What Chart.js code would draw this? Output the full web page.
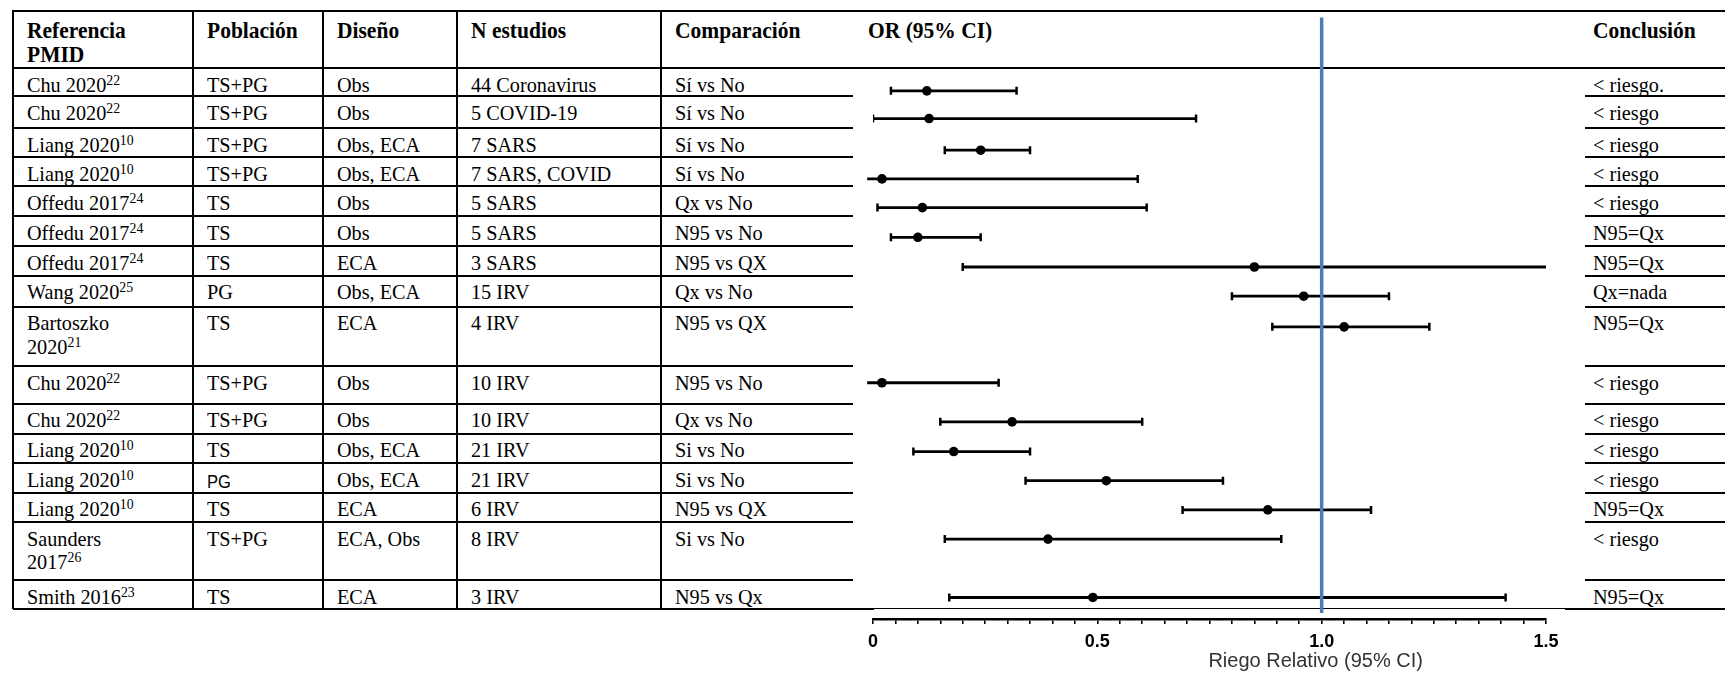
<!DOCTYPE html>
<html lang="es">
<head>
<meta charset="utf-8">
<title>Mascarillas: OR (95% CI)</title>
<script src="https://cdn.jsdelivr.net/npm/chart.js@4.4.1/dist/chart.umd.min.js"></script>
<style>
    html, body { margin: 0; padding: 0; background: #fff; }
    #page {
        position: relative;
        width: 1725px;
        height: 673px;
        overflow: hidden;
        font-family: "Liberation Serif", "Times New Roman", serif;
        color: #000;
    }
    .rule { position: absolute; background: #000; }
    .txt {
        position: absolute;
        font-size: 22px;
        line-height: 23.5px;
        white-space: pre;
        transform: scaleX(0.92);
        transform-origin: 0 0;
    }
    .txt.bold { font-weight: bold; font-size: 23px; transform: scaleX(0.935); }
    .txt sup { font-size: 15px; line-height: 0; vertical-align: 7px; }
    .txt.sans { font-family: "Liberation Sans", Arial, sans-serif; font-size: 18px; }
    #plot { position: absolute; left: 0; top: 0; z-index: 2; }
</style>
</head>
<body>
<div id="page">
    <canvas id="plot" width="1725" height="673"></canvas>
</div>
<script>
// ---- datos ----
const encabezados = ['Referencia\nPMID', 'Población', 'Diseño', 'N estudios', 'Comparación', 'OR (95% CI)', 'Conclusión'];
const referencias = ['Chu 2020', 'Chu 2020', 'Liang 2020', 'Liang 2020', 'Offedu 2017', 'Offedu 2017', 'Offedu 2017',
    'Wang 2020', 'Bartoszko\n2020', 'Chu 2020', 'Chu 2020', 'Liang 2020', 'Liang 2020', 'Liang 2020', 'Saunders\n2017', 'Smith 2016'];
const citas = ['22', '22', '10', '10', '24', '24', '24', '25', '21', '22', '22', '10', '10', '10', '26', '23'];
const poblacion = ['TS+PG', 'TS+PG', 'TS+PG', 'TS+PG', 'TS', 'TS', 'TS', 'PG', 'TS', 'TS+PG', 'TS+PG', 'TS', 'PG', 'TS', 'TS+PG', 'TS'];
const diseno = ['Obs', 'Obs', 'Obs, ECA', 'Obs, ECA', 'Obs', 'Obs', 'ECA', 'Obs, ECA', 'ECA', 'Obs', 'Obs', 'Obs, ECA',
    'Obs, ECA', 'ECA', 'ECA, Obs', 'ECA'];
const nEstudios = ['44 Coronavirus', '5 COVID-19', '7 SARS', '7 SARS, COVID', '5 SARS', '5 SARS', '3 SARS', '15 IRV', '4 IRV',
    '10 IRV', '10 IRV', '21 IRV', '21 IRV', '6 IRV', '8 IRV', '3 IRV'];
const comparacion = ['Sí vs No', 'Sí vs No', 'Sí vs No', 'Sí vs No', 'Qx vs No', 'N95 vs No', 'N95 vs QX', 'Qx vs No', 'N95 vs QX',
    'N95 vs No', 'Qx vs No', 'Si vs No', 'Si vs No', 'N95 vs QX', 'Si vs No', 'N95 vs Qx'];
const conclusion = ['< riesgo.', '< riesgo', '< riesgo', '< riesgo', '< riesgo', 'N95=Qx', 'N95=Qx', 'Qx=nada', 'N95=Qx',
    '< riesgo', '< riesgo', '< riesgo', '< riesgo', 'N95=Qx', '< riesgo', 'N95=Qx'];

const orPunto = [0.12, 0.125, 0.24, 0.02, 0.11, 0.10, 0.85, 0.96, 1.05, 0.02, 0.31, 0.18, 0.52, 0.88, 0.39, 0.49];
const icInferior = [0.04, 0.00, 0.16, -0.013, 0.01, 0.04, 0.20, 0.80, 0.89, -0.013, 0.15, 0.09, 0.34, 0.69, 0.16, 0.17];
const icSuperior = [0.32, 0.72, 0.35, 0.59, 0.61, 0.24, 1.50, 1.15, 1.24, 0.28, 0.60, 0.35, 0.78, 1.11, 0.91, 1.41];

const xTickValores = [0, 0.5, 1.0, 1.5];
const xTickEtiquetas = ['0', '0.5', '1.0', '1.5'];
const xTitulo = 'Riego Relativo (95% CI)';
const valorNulo = 1.0;

// ---- maquetación ----
const X_MIN = 0, X_MAX = 1.5, X_PASO = 0.05;
const ROW_LINES = [11, 68, 96, 128, 157, 186, 216, 246, 275.5, 306.5, 366, 403.5, 433.5, 463, 492.5, 522, 580, 609];
const CI_SHIFT = [1, 1, 1, 1, 1, 1, 1, 1, 1, -2, 0, 0, 0, 0, 0, 1];
const COL_X = [13, 193, 323, 457, 661, 853, 1585, 1725];
const PAD_X = 14, PAD_TOP = 4.5, HEAD_PAD_TOP = 8, LINE_H = 23.5;
const AXIS_Y = 619, PLOT_LEFT = 873, PLOT_RIGHT = 1546;
const SANS_CELLS = [[12, 1]];

const page = document.getElementById('page');

function rule(x, y, w, h) {
    const el = document.createElement('div');
    el.className = 'rule';
    Object.assign(el.style, { left: x + 'px', top: y + 'px', width: w + 'px', height: h + 'px' });
    page.appendChild(el);
}

function text(str, x, y, { bold = false, sup = '', sans = false } = {}) {
    const el = document.createElement('div');
    el.className = 'txt' + (bold ? ' bold' : '') + (sans ? ' sans' : '');
    el.style.left = x + 'px';
    el.style.top = y + 'px';
    el.textContent = str;
    if (sup) {
        const s = document.createElement('sup');
        s.textContent = sup;
        el.appendChild(s);
    }
    page.appendChild(el);
}

function buildTable() {
    const top = ROW_LINES[0];
    const bottom = ROW_LINES[ROW_LINES.length - 1];
    const right = COL_X[COL_X.length - 1];

    rule(COL_X[0], top - 1, right - COL_X[0], 2);
    rule(COL_X[0], ROW_LINES[1] - 1, right - COL_X[0], 2);
    ROW_LINES.slice(2, -1).forEach((y) => {
        rule(COL_X[0], y - 1, COL_X[5] - COL_X[0], 2);
        rule(COL_X[6], y - 1, right - COL_X[6], 2);
    });
    rule(COL_X[0], bottom - 1, 874 - COL_X[0], 2);
    rule(874, bottom - 1, 1565 - 874, 1);
    rule(1565, bottom - 1, right - 1565, 2);
    COL_X.slice(0, 5).forEach((x) => rule(x - 1, top - 1, 2, bottom - top + 1));

    encabezados.forEach((h, c) => {
        const x = c === 6 ? COL_X[6] + 8 : COL_X[c] + (c === 5 ? 15 : PAD_X);
        text(h, x, top + HEAD_PAD_TOP, { bold: true });
    });

    const cols = [referencias, poblacion, diseno, nEstudios, comparacion];
    referencias.forEach((_, i) => {
        const y = ROW_LINES[i + 1] + PAD_TOP;
        cols.forEach((col, c) => {
            const sans = SANS_CELLS.some(([r, k]) => r === i && k === c);
            text(col[i], COL_X[c] + PAD_X, sans ? y + 3 : y, { sup: c === 0 ? citas[i] : '', sans });
        });
        text(conclusion[i], COL_X[6] + 8, y);
    });
}

buildTable();

// centro de la primera línea de texto de cada fila
const filaY = orPunto.map((_, i) => ROW_LINES[i + 1] + PAD_TOP + LINE_H / 2 + CI_SHIFT[i]);

const datasets = [];

datasets.push({
    label: 'OR = 1',
    data: [
        { x: valorNulo, y: ROW_LINES[0] },
        { x: valorNulo, y: ROW_LINES[ROW_LINES.length - 1] + 4 },
    ],
    showLine: true,
    borderColor: '#4a7ebb',
    borderWidth: 3.5,
    pointRadius: 0,
    clip: false,
    order: 0,
});

datasets.push({
    label: 'OR',
    data: orPunto.map((v, i) => ({ x: v, y: filaY[i] })),
    pointStyle: 'circle',
    pointRadius: 4.8,
    backgroundColor: '#000',
    borderWidth: 0,
    order: 1,
});

const extremos = [];
icInferior.forEach((v, i) => {
    if (v >= X_MIN) extremos.push({ x: v, y: filaY[i] });
});
icSuperior.forEach((v, i) => {
    if (v < X_MAX) extremos.push({ x: v, y: filaY[i] });
});
datasets.push({
    label: 'extremos IC',
    data: extremos,
    pointStyle: 'line',
    rotation: 90,
    pointRadius: 4,
    borderColor: '#000',
    borderWidth: 2.5,
    order: 2,
});

icInferior.forEach((lo, i) => {
    datasets.push({
        label: 'IC ' + (i + 1),
        data: [
            { x: lo, y: filaY[i] },
            { x: icSuperior[i], y: filaY[i] },
        ],
        showLine: true,
        borderColor: '#000',
        borderWidth: 2.8,
        pointRadius: 0,
        clip: false,
        order: 3,
    });
});

const axisTitle = {
    id: 'axisTitle',
    afterDraw(chart) {
        const { ctx } = chart;
        const x = chart.scales.x.getPixelForValue(valorNulo) - 6;
        ctx.save();
        ctx.font = '20px "Liberation Sans", Arial, sans-serif';
        ctx.fillStyle = '#333';
        ctx.textAlign = 'center';
        ctx.textBaseline = 'alphabetic';
        ctx.fillText(xTitulo, x, 667);
        ctx.restore();
    },
};

new Chart(document.getElementById('plot'), {
    type: 'scatter',
    data: { datasets },
    plugins: [axisTitle],
    options: {
        responsive: false,
        animation: false,
        devicePixelRatio: 1,
        events: [],
        layout: { padding: { left: PLOT_LEFT, right: 1725 - PLOT_RIGHT, top: 0, bottom: 0 } },
        plugins: { legend: { display: false }, tooltip: { enabled: false } },
        scales: {
            x: {
                type: 'linear',
                min: X_MIN,
                max: X_MAX,
                afterFit: (scale) => {
                    scale.height = 673 - AXIS_Y;
                },
                ticks: {
                    stepSize: X_PASO,
                    autoSkip: false,
                    maxRotation: 0,
                    padding: 7,
                    color: '#000',
                    font: { family: '"Liberation Sans", Arial, sans-serif', size: 18, weight: 'bold' },
                    callback: (v) => {
                        const k = xTickValores.findIndex((t) => Math.abs(t - v) < 1e-6);
                        return k >= 0 ? xTickEtiquetas[k] : '';
                    },
                },
                grid: { drawOnChartArea: false, tickLength: 5, color: '#000', lineWidth: 1.6 },
                border: { color: '#000', width: 2.6 },
            },
            y: { type: 'linear', reverse: true, min: 0, max: AXIS_Y, display: false },
        },
    },
});
</script>
</body>
</html>
